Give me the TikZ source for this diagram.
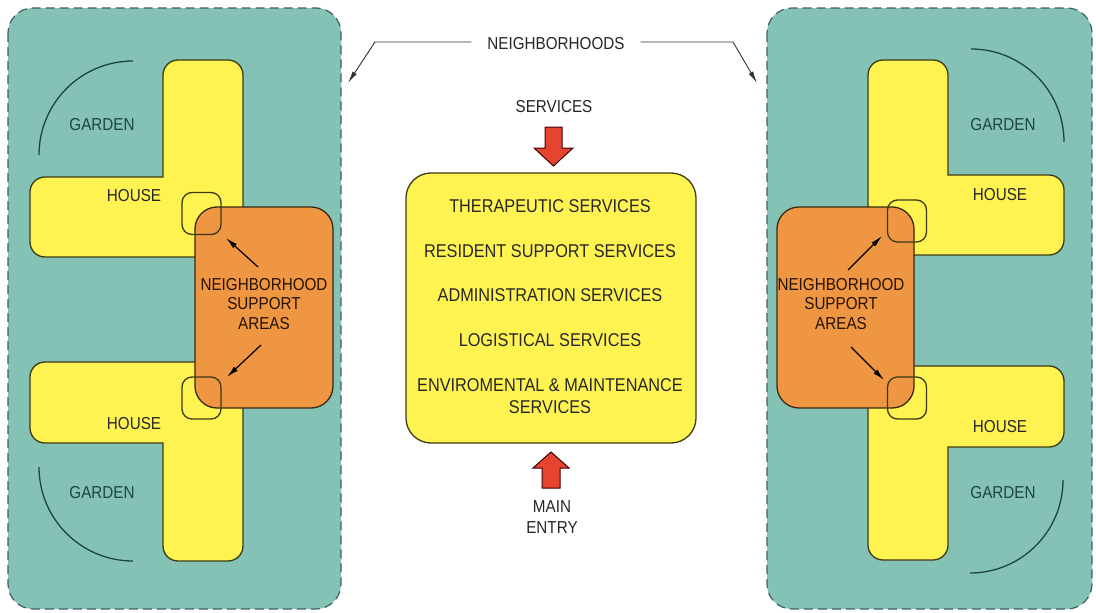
\documentclass[tikz,border=0pt]{standalone}
\usepackage{fontspec}
\setmainfont{Liberation Sans}
\usetikzlibrary{arrows.meta}
\definecolor{tealbg}{HTML}{84C2B5}
\definecolor{tealline}{HTML}{3F5F66}
\definecolor{yel}{HTML}{FFF352}
\definecolor{yelline}{HTML}{3C3A14}
\definecolor{orng}{HTML}{EE9642}
\definecolor{orngline}{HTML}{3A2A12}
\definecolor{redarr}{HTML}{E5442E}
\definecolor{gardtxt}{HTML}{1E4448}
\definecolor{txtc}{HTML}{262626}
\begin{document}
\begin{tikzpicture}[x=1pt,y=1pt,
  panel/.style={fill=tealbg,draw=tealline,line width=1.2pt,dash pattern=on 9pt off 5pt,rounded corners=25pt},
  house/.style={fill=yel,draw=yelline,line width=1.3pt},
  nsa/.style={fill=orng,draw=orngline,line width=1.3pt,rounded corners=22pt},
  joint/.style={draw=yelline,line width=1.3pt,rounded corners=10pt,minimum width=39pt,minimum height=42pt,inner sep=0pt},
  arc/.style={draw=gardtxt,line width=1.3pt},
  lbl/.style={font=\fontsize{17.3}{20}\selectfont,xscale=0.88,transform shape,inner sep=0pt,text=txtc},
  gard/.style={lbl,text=gardtxt},
  nsatxt/.style={lbl,align=center,text=black!85!orange,font=\fontsize{17.3}{19.5}\selectfont},
  svctxt/.style={font=\fontsize{18.5}{22}\selectfont,xscale=0.88,transform shape,inner sep=0pt,text=txtc,align=center},
  ptr/.style={line width=1.2pt,-{Latex[length=12pt,width=5.5pt]}},
  thin/.style={line width=0.9pt,draw=black!80,-{Latex[length=12pt,width=5pt]}},
  blockarrow/.style={fill=redarr,draw=black!75!red,line width=1pt}
]
\useasboundingbox (0,0) rectangle (1096,-613);
\fill[white] (0,0) rectangle (1096,-613);

% panels
\draw[panel] (8,-8) rectangle (341,-609);
\draw[panel] (767,-8) rectangle (1092,-609);

% garden arcs
\draw[arc] (39,-155) arc[start angle=180,end angle=90,radius=94];
\draw[arc] (39,-467) arc[start angle=180,end angle=270,radius=94];
\draw[arc] (971,-49) arc[start angle=90,end angle=0,radius=93];
\draw[arc] (1063,-480) arc[start angle=0,end angle=-90,radius=93];

% houses (L shapes)
\draw[house] (45,-177) -- (163,-177) -- (163,-75) arc[start angle=180,end angle=90,radius=15]
  -- (228,-60) arc[start angle=90,end angle=0,radius=15]
  -- (243,-242) arc[start angle=0,end angle=-90,radius=15]
  -- (45,-257) arc[start angle=-90,end angle=-180,radius=15]
  -- (30,-192) arc[start angle=180,end angle=90,radius=15] -- cycle;
\draw[house] (45,-362) -- (228,-362) arc[start angle=90,end angle=0,radius=15]
  -- (243,-546) arc[start angle=0,end angle=-90,radius=15]
  -- (178,-561) arc[start angle=-90,end angle=-180,radius=15]
  -- (163,-443) -- (45,-443) arc[start angle=-90,end angle=-180,radius=15]
  -- (30,-377) arc[start angle=180,end angle=90,radius=15] -- cycle;
\draw[house] (883,-60) -- (933,-60) arc[start angle=90,end angle=0,radius=15]
  -- (948,-175) -- (1049,-175) arc[start angle=90,end angle=0,radius=15]
  -- (1064,-240) arc[start angle=0,end angle=-90,radius=15]
  -- (883,-255) arc[start angle=-90,end angle=-180,radius=15]
  -- (868,-75) arc[start angle=180,end angle=90,radius=15] -- cycle;
\draw[house] (883,-366) -- (1049,-366) arc[start angle=90,end angle=0,radius=15]
  -- (1064,-432) arc[start angle=0,end angle=-90,radius=15]
  -- (948,-447) -- (948,-545) arc[start angle=0,end angle=-90,radius=15]
  -- (883,-560) arc[start angle=-90,end angle=-180,radius=15]
  -- (868,-381) arc[start angle=180,end angle=90,radius=15] -- cycle;

% neighborhood support areas
\draw[nsa] (195,-207) rectangle (333,-408);
\draw[nsa] (777,-207) rectangle (914,-408);

% joints
\node[joint] (jLU) at (201.5,-213.5) {};
\node[joint] (jLD) at (201.5,-398) {};
\node[joint] (jRU) at (907,-221) {};
\node[joint] (jRD) at (907,-398) {};

% labels
\node[gard] (gLU) at (102,-125) {GARDEN};
\node[gard] (gLD) at (102,-493) {GARDEN};
\node[gard] (gRU) at (1003,-125) {GARDEN};
\node[gard] (gRD) at (1003,-493) {GARDEN};
\node[lbl] (hLU) at (134,-196) {HOUSE};
\node[lbl] (hLD) at (134,-424) {HOUSE};
\node[lbl] (hRU) at (1000,-195) {HOUSE};
\node[lbl] (hRD) at (1000,-427) {HOUSE};
\node[nsatxt] (nL) at (264,-304) {NEIGHBORHOOD\\SUPPORT\\AREAS};
\node[nsatxt] (nR) at (841,-304) {NEIGHBORHOOD\\SUPPORT\\AREAS};

% pointers
\coordinate (pLUs) at (258,-267); \coordinate (pLUe) at (226,-238);
\coordinate (pLDs) at (261,-345); \coordinate (pLDe) at (227,-377);
\coordinate (pRUs) at (848,-270); \coordinate (pRUe) at (882,-236);
\coordinate (pRDs) at (851,-347); \coordinate (pRDe) at (884,-380);
\draw[ptr] (pLUs) -- (pLUe);
\draw[ptr] (pLDs) -- (pLDe);
\draw[ptr] (pRUs) -- (pRUe);
\draw[ptr] (pRDs) -- (pRDe);

% neighborhoods
\node[lbl,inner xsep=18pt] (nb) at (556,-44) {NEIGHBORHOODS};
\coordinate (nbLb) at (375,-42); \coordinate (nbLt) at (348,-83);
\coordinate (nbRb) at (733,-42); \coordinate (nbRt) at (757,-83);
\draw[thin] (nb.west |- nbLb) -- (nbLb) -- (nbLt);
\draw[thin] (nb.east |- nbRb) -- (nbRb) -- (nbRt);

% services
\node[lbl] (svl) at (554,-107) {SERVICES};
\draw[blockarrow] (545,-127) -- (562,-127) -- (562,-148) -- (573,-148) -- (553.5,-166) -- (534,-148) -- (545,-148) -- cycle;

\node[draw=yelline,fill=yel,line width=1.3pt,rounded corners=25pt,minimum width=290pt,minimum height=270pt] (svc) at (551,-308) {};
\node[svctxt] at (550,-206) {THERAPEUTIC SERVICES};
\node[svctxt] at (550,-251) {RESIDENT SUPPORT SERVICES};
\node[svctxt] at (550,-295) {ADMINISTRATION SERVICES};
\node[svctxt] at (550,-340) {LOGISTICAL SERVICES};
\node[svctxt] at (550,-396) {ENVIROMENTAL \& MAINTENANCE\\SERVICES};

% main entry
\draw[blockarrow] (542,-488) -- (560,-488) -- (560,-468) -- (569,-468) -- (551,-452) -- (533,-468) -- (542,-468) -- cycle;
\node[lbl,align=center,font=\fontsize{17.3}{21}\selectfont] (me) at (552,-517) {MAIN\\ENTRY};
\end{tikzpicture}
\end{document}
